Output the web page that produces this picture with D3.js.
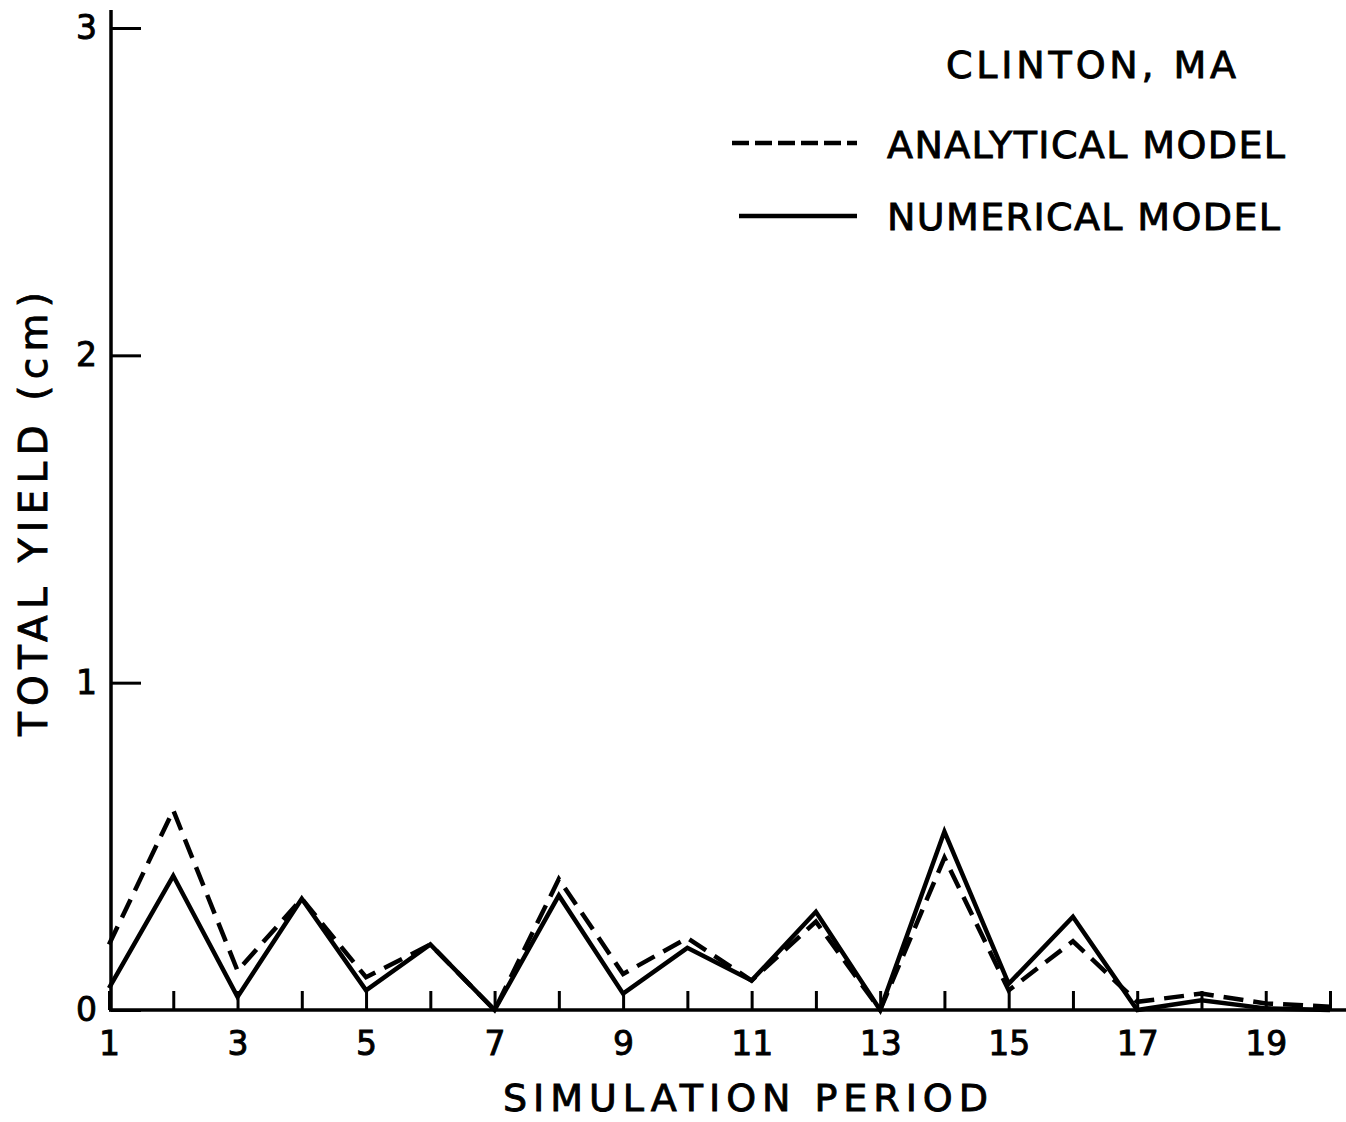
<!DOCTYPE html>
<html>
<head>
<meta charset="utf-8">
<script src="https://cdn.jsdelivr.net/npm/d3@7"></script>
<style>
  html, body { margin: 0; padding: 0; background: #fff; }
  svg { display: block; }
  text { font-family: "DejaVu Sans", sans-serif; fill: #000; stroke: #000; stroke-width: 0.9px; }
</style>
</head>
<body>
<script>
// Simulation periods 1..20
const periods = d3.range(1, 21);
// Total yield (cm) per period for each model
const analyticalYield = [0.20, 0.61, 0.12, 0.34, 0.10, 0.20, 0.00, 0.40, 0.11, 0.22,
                         0.09, 0.27, 0.00, 0.465, 0.06, 0.21, 0.025, 0.05, 0.02, 0.01];
const numericalYield  = [0.067, 0.41, 0.04, 0.34, 0.06, 0.20, 0.00, 0.35, 0.05, 0.19,
                         0.09, 0.30, 0.00, 0.545, 0.08, 0.285, 0.00, 0.03, 0.005, 0.00];
const yTickValues = [0, 1, 2, 3];
const xLabelValues = [1, 3, 5, 7, 9, 11, 13, 15, 17, 19];
const legendTitle = "CLINTON, MA";
const seriesNames = ["ANALYTICAL MODEL", "NUMERICAL MODEL"];

const W = 1346, H = 1122;
const svg = d3.select("body").append("svg").attr("width", W).attr("height", H);

const x = d3.scaleLinear().domain([1, 20]).range([109, 1330]);
const y = d3.scaleLinear().domain([0, 3]).range([1010, 28]);
const axisLeftX = 111;

// x axis: inward ticks at every period, labels at odd periods
const xAxis = d3.axisBottom(x)
  .tickValues(periods)
  .tickSize(-19)
  .tickSizeOuter(0)
  .tickPadding(22)
  .tickFormat(d => xLabelValues.includes(d) ? String(d) : "");
const gx = svg.append("g").attr("transform", `translate(0,${y(0)})`).call(xAxis);
gx.select(".domain").remove();
gx.selectAll(".tick line").attr("stroke", "#000").attr("stroke-width", 3);
gx.selectAll(".tick text").attr("font-size", 33).attr("dy", "0.71em").attr("y", 22);
gx.append("line")
  .attr("x1", axisLeftX - 2).attr("x2", x.range()[1] + 16)
  .attr("y1", 0).attr("y2", 0)
  .attr("stroke", "#000").attr("stroke-width", 3.5);

// y axis: ticks pointing into the plot, labels to the left
const yAxis = d3.axisLeft(y)
  .tickValues(yTickValues)
  .tickSize(-30)
  .tickSizeOuter(0)
  .tickPadding(14)
  .tickFormat(d3.format("d"));
const gy = svg.append("g").attr("transform", `translate(${axisLeftX},0)`).call(yAxis);
gy.select(".domain").remove();
gy.selectAll(".tick line").attr("stroke", "#000").attr("stroke-width", 3);
gy.selectAll(".tick text").attr("font-size", 33);
gy.append("line")
  .attr("x1", 0).attr("x2", 0)
  .attr("y1", y(3) - 18).attr("y2", y(0) + 1.5)
  .attr("stroke", "#000").attr("stroke-width", 3.5);

// series lines
const line = d3.line().x((d, i) => x(periods[i])).y(d => y(d));
svg.append("path")
  .datum(numericalYield)
  .attr("d", line)
  .attr("fill", "none").attr("stroke", "#000").attr("stroke-width", 4.5)
  .attr("stroke-linejoin", "miter");
svg.append("path")
  .datum(analyticalYield)
  .attr("d", line)
  .attr("fill", "none").attr("stroke", "#000").attr("stroke-width", 4.5)
  .attr("stroke-dasharray", "20,10")
  .attr("stroke-linejoin", "miter");

// axis titles
svg.append("text")
  .attr("x", 503).attr("y", 1111)
  .attr("font-size", 38)
  .attr("textLength", 485).attr("lengthAdjust", "spacing")
  .text("SIMULATION PERIOD");
svg.append("text")
  .attr("transform", "translate(47,736) rotate(-90)")
  .attr("font-size", 39)
  .attr("textLength", 444).attr("lengthAdjust", "spacing")
  .text("TOTAL YIELD (cm)");

// legend
svg.append("text")
  .attr("x", 946).attr("y", 78)
  .attr("font-size", 38)
  .attr("textLength", 290).attr("lengthAdjust", "spacing")
  .text(legendTitle);
const legend = [
  { name: seriesNames[0], dash: "17,6", x1: 732, x2: 857, ly: 143, ty: 158, len: 398 },
  { name: seriesNames[1], dash: null,   x1: 739, x2: 857, ly: 216, ty: 230, len: 393 }
];
legend.forEach(l => {
  svg.append("line")
    .attr("x1", l.x1).attr("x2", l.x2).attr("y1", l.ly).attr("y2", l.ly)
    .attr("stroke", "#000").attr("stroke-width", 4.5)
    .attr("stroke-dasharray", l.dash);
  svg.append("text")
    .attr("x", 887).attr("y", l.ty)
    .attr("font-size", 38)
    .attr("textLength", l.len).attr("lengthAdjust", "spacing")
    .text(l.name);
});
</script>
</body>
</html>
